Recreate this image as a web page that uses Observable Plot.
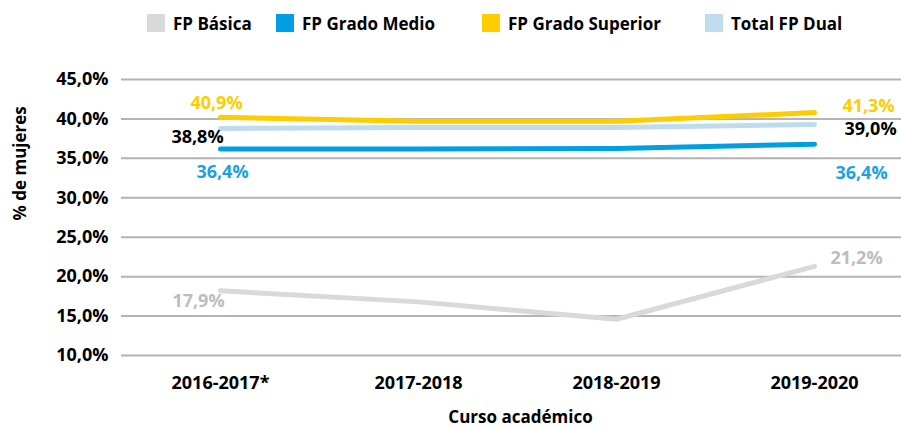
<!DOCTYPE html>
<html>
<head>
<meta charset="utf-8">
<script src="https://cdn.jsdelivr.net/npm/d3@7"></script>
<script src="https://cdn.jsdelivr.net/npm/@observablehq/plot@0.6"></script>
<style>
  html, body { margin: 0; padding: 0; background: #fff; }
  body { width: 901px; height: 427px; overflow: hidden; font-family: 'Open Sans', sans-serif; }
  #legend { position: relative; height: 34px; width: 901px; }
  .item { position: absolute; top: 14px; height: 18px; display: flex; align-items: center; font-weight: 700; font-size: 17px; color: #000; white-space: nowrap; }
  .sw { width: 18px; height: 18px; margin-right: 8px; flex: none; }
  #chart svg { display: block; }
</style>
</head>
<body>
<div id="legend"></div>
<div id="chart"></div>
<script>
// ---- Data ----
const cursos = ["2016-2017*", "2017-2018", "2018-2019", "2019-2020"];
const series = ["FP Básica", "FP Grado Medio", "FP Grado Superior", "Total FP Dual"];
const fpBasica        = [18.2, 16.8, 14.6, 21.3];
const fpGradoMedio    = [36.2, 36.2, 36.25, 36.8];
const fpGradoSuperior = [40.2, 39.7, 39.7, 40.8];
const totalFPDual     = [38.8, 38.9, 38.9, 39.3];
const yTicks = [10, 15, 20, 25, 30, 35, 40, 45];
// data labels (text shown in the chart)
const labelSeries = ["FP Grado Superior", "Total FP Dual", "FP Grado Medio", "FP Básica",
                     "FP Grado Superior", "Total FP Dual", "FP Grado Medio", "FP Básica"];
const labelCursos = ["2016-2017*", "2016-2017*", "2016-2017*", "2016-2017*",
                     "2019-2020", "2019-2020", "2019-2020", "2019-2020"];
const labelTexts  = ["40,9%", "38,8%", "36,4%", "17,9%", "41,3%", "39,0%", "36,4%", "21,2%"];

// ---- Styling / layout (not data) ----
const colors = ["#d9d9d9", "#009fe3", "#ffcc00", "#bfdcee"];
const labelColors = {"FP Básica": "#bdbdbd", "FP Grado Medio": "#1ba1e2", "FP Grado Superior": "#ffcc00", "Total FP Dual": "#000"};
const labelOffsets = [[-4, -14], [-23, 9], [2, 23], [-22, 10], [54, -6], [56, 5], [47, 29], [42, -8]];
const legendLefts = [147, 276, 482, 705];

const valuesBySerie = {
  "FP Básica": fpBasica,
  "FP Grado Medio": fpGradoMedio,
  "FP Grado Superior": fpGradoSuperior,
  "Total FP Dual": totalFPDual
};
const rows = series.flatMap(s => cursos.map((c, i) => ({serie: s, curso: c, value: valuesBySerie[s][i]})));
const fmt = d => d.toFixed(1).replace(".", ",") + "%";

// legend
const legend = document.getElementById("legend");
series.forEach((s, i) => {
  const it = document.createElement("div");
  it.className = "item";
  it.style.left = legendLefts[i] + "px";
  it.innerHTML = `<span class="sw" style="background:${colors[i]}"></span><span>${s}</span>`;
  legend.appendChild(it);
});

const labelMarks = labelTexts.map((t, i) => {
  const s = labelSeries[i], c = labelCursos[i];
  const v = valuesBySerie[s][cursos.indexOf(c)];
  return Plot.text([{curso: c, value: v, text: t}], {
    x: "curso", y: "value", text: "text",
    fill: labelColors[s], fontSize: 18, fontWeight: 700,
    textAnchor: "middle", lineAnchor: "middle",
    dx: labelOffsets[i][0], dy: labelOffsets[i][1]
  });
});

const chart = Plot.plot({
  width: 901, height: 393,
  marginTop: 45, marginBottom: 72, marginLeft: 121, marginRight: 0,
  style: {fontFamily: "'Open Sans', sans-serif", fontSize: "18px", fontWeight: 700, color: "#000", background: "#fff"},
  x: {type: "point", domain: cursos, range: [219, 814], padding: 0, label: null},
  y: {domain: [10, 45], label: null},
  color: {domain: series, range: colors},
  marks: [
    Plot.ruleY(yTicks, {stroke: "#b3b3b3", strokeWidth: 2}),
    Plot.axisY({ticks: yTicks, tickSize: 0, tickPadding: 13, tickFormat: fmt, fontSize: 18, fontWeight: 700, label: null}),
    Plot.axisX({tickSize: 0, tickPadding: 21, fontSize: 18, fontWeight: 700, label: null}),
    Plot.line(rows, {x: "curso", y: "value", z: "serie", stroke: "serie", strokeWidth: 5, strokeLinecap: "round", strokeLinejoin: "round"}),
    ...labelMarks,
    Plot.text(["% de mujeres"], {frameAnchor: "left", rotate: -90, dx: -101, dy: 3, fontSize: 17, fontWeight: 700, fill: "#000"}),
    Plot.text(["Curso académico"], {frameAnchor: "bottom", dx: 9, dy: 62, lineAnchor: "middle", fontSize: 17, fontWeight: 700, fill: "#000"})
  ]
});
document.getElementById("chart").appendChild(chart);
</script>
</body>
</html>
